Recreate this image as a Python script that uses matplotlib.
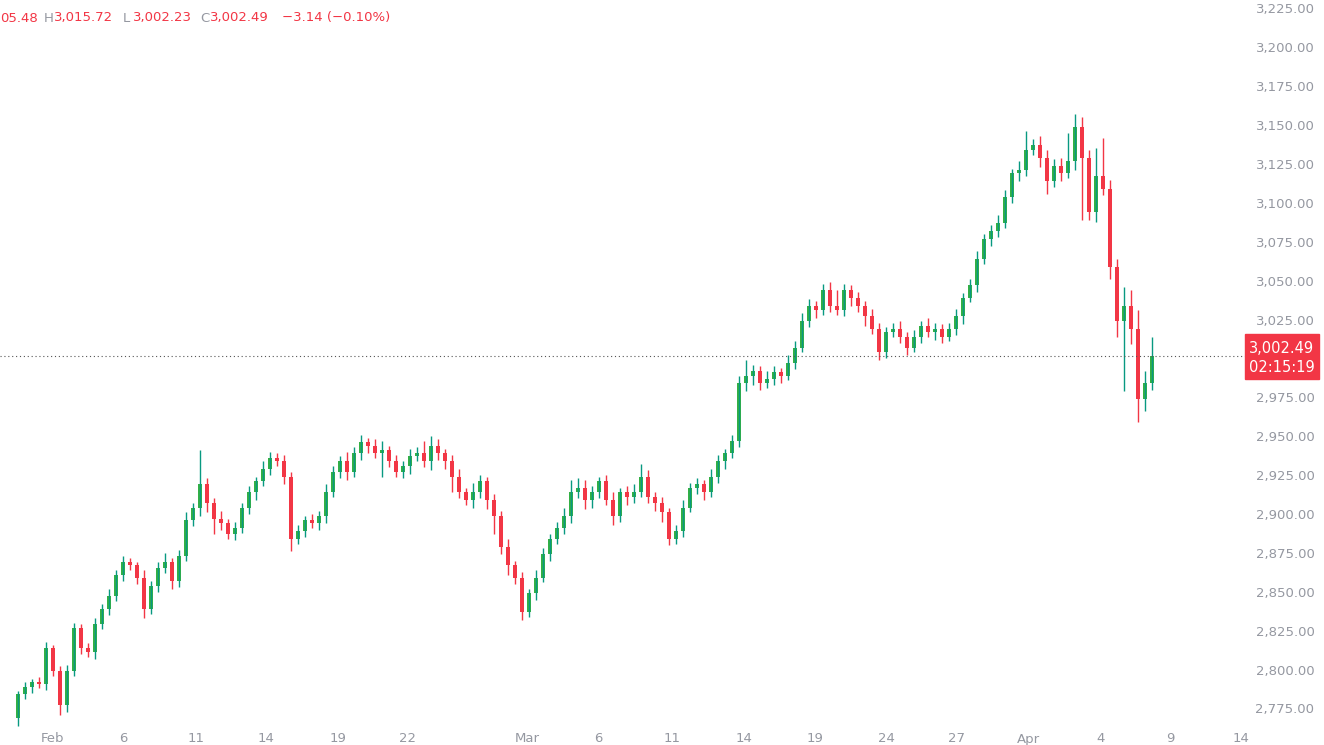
import matplotlib
matplotlib.use("Agg")
import matplotlib.pyplot as plt
from matplotlib.transforms import blended_transform_factory as btf

first_open = 2770
closes = [2785,2790,2793,2792,2815,2800,2778,2800,2828,2815,2812,2830,2840,2848,2862,2870,2868,2860,2840,2855,
2866,2870,2858,2874,2897,2905,2920,2908,2898,2895,2888,2892,2905,2915,2922,2930,2937,2935,2925,2885,
2890,2897,2895,2900,2915,2928,2935,2928,2940,2947,2945,2940,2942,2935,2928,2932,2938,2940,2935,2945,
2940,2935,2925,2915,2910,2915,2922,2910,2900,2880,2868,2860,2838,2850,2860,2875,2885,2892,2900,2915,
2918,2910,2915,2922,2910,2900,2915,2912,2915,2925,2912,2908,2902,2885,2890,2905,2918,2920,2915,2925,
2935,2940,2948,2985,2990,2993,2985,2988,2992,2990,2998,3008,3025,3035,3032,3045,3035,3032,3045,3040,
3035,3028,3020,3005,3018,3020,3015,3008,3015,3022,3018,3020,3015,3020,3028,3040,3048,3065,3078,3083,
3088,3105,3120,3122,3135,3138,3130,3115,3125,3120,3128,3150,3130,3095,3118,3110,3060,3025,3035,3020,
2975,2985,3002.49]
wick_up = [2,3,2,3,4,2,3,4,3,2,3,4,3,5,3,4,3,2,5,3,
4,6,3,4,5,3,22,4,3,5,3,4,3,4,3,5,4,3,4,3,
4,3,4,3,5,4,3,6,4,5,3,4,6,3,4,3,5,4,8,6,
4,3,4,5,3,6,4,3,4,3,5,3,4,3,5,4,3,4,5,8,
6,5,4,3,4,5,3,4,5,8,4,3,4,3,4,5,3,4,3,5,
4,3,4,5,10,4,3,5,4,3,5,4,5,4,3,4,5,10,4,3,
4,3,5,4,3,4,5,3,4,3,5,4,3,4,5,3,4,5,3,4,
5,4,3,6,12,4,6,5,4,5,18,8,6,5,18,25,6,5,12,10,
12,8,12]
wick_dn = [5,3,4,3,4,3,6,4,3,4,3,4,3,4,3,4,3,4,6,3,
4,3,5,4,3,4,5,6,10,4,3,4,3,4,5,3,4,3,5,8,
3,4,3,4,5,3,4,5,3,4,5,3,15,4,3,4,5,3,4,6,
4,5,10,4,3,5,4,6,12,5,6,4,5,3,4,3,4,3,4,5,
4,6,5,4,3,6,4,5,4,3,4,5,6,4,3,4,3,4,5,3,
4,5,3,4,5,6,4,3,4,5,3,4,3,4,5,3,4,3,4,5,
4,6,3,5,4,3,4,5,3,4,3,5,4,3,4,5,3,4,3,5,
4,3,4,5,4,3,6,8,4,5,3,6,40,5,6,4,8,10,45,10,
15,8,4]
date_labels = ["Feb","6","11","14","19","22","Mar","6","11","14","19","24","27","Apr","4","9","14"]
date_pos = [5,15.1,25.4,35.4,45.7,55.7,72.7,82.9,93.4,103.7,113.9,124,134.1,144.4,154.6,164.6,174.7]
price_ticks = [2775,2800,2825,2850,2875,2900,2925,2950,2975,3000,3025,3050,3075,3100,3125,3150,3175,3200,3225]

UP_B, UP_W, DN = "#34b045", "#089981", "#f23645"
GRAY = "#9598a1"
fig = plt.figure(figsize=(13.24, 7.45), dpi=100)
ax = fig.add_axes([0, 0, 1245/1324, 1])
ax.set_xlim(-18/7, (1245-18)/7)
ax.set_ylim(2752.5, 3231.4)
ax.axis("off")
prev = first_open
for i, c in enumerate(closes):
    o = prev
    hi = max(o, c) + wick_up[i]
    lo = min(o, c) - wick_dn[i]
    up = c >= o
    ax.vlines(i, lo, hi, color=UP_W if up else DN, lw=1)
    ax.bar(i, max(abs(c-o), 0.6), bottom=min(o, c), width=0.6, color=UP_B if up else DN, lw=0)
    prev = c

last = closes[-1]
ax.axhline(last, color="#555555", lw=0.8, ls=(0, (1, 2.5)))
tr = btf(fig.transFigure, ax.transData)
for p in price_ticks:
    if abs(p-last) > 8:
        fig.text(1285/1324, p, f"{p:,.2f}", transform=tr, ha="center", va="center", fontsize=9.5, color=GRAY)
fig.patches.append(plt.Rectangle((1245/1324, last-14.5), 74/1324, 29, transform=tr, color=DN))
fig.text(1282/1324, last+5, f"{last:,.2f}", transform=tr, ha="center", va="center", fontsize=10.5, color="white")
fig.text(1282/1324, last-7.5, "02:15:19", transform=tr, ha="center", va="center", fontsize=10.5, color="white")
trx = btf(ax.transData, fig.transFigure)
for p, l in zip(date_pos, date_labels):
    fig.text(p, 1-739/745, l, transform=trx, ha="center", va="center", fontsize=9.5, color=GRAY)

hdr = [(0, "05.48", DN), (44, "H", GRAY), (54, "3,015.72", DN), (123, "L", GRAY),
       (133, "3,002.23", DN), (200, "C", GRAY), (210, "3,002.49", DN), (282, "\u22123.14 (\u22120.10%)", DN)]
for x, s, col in hdr:
    fig.text(x/1324, 1-18/745, s, ha="left", va="center", fontsize=9.5, color=col)
fig.savefig("out.png", dpi=100)
